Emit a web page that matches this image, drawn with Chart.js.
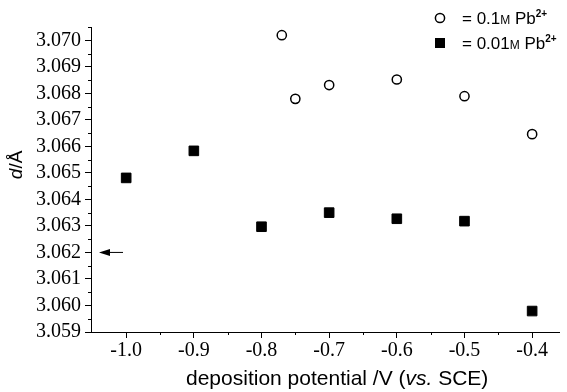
<!DOCTYPE html>
<html>
<head>
<meta charset="utf-8">
<script src="https://cdn.jsdelivr.net/npm/chart.js@4.4.0/dist/chart.umd.min.js"></script>
<style>
  html, body { margin: 0; padding: 0; background: #fff; }
</style>
</head>
<body>
<canvas id="dChart" width="567" height="392"></canvas>
<script>
// lattice spacing d (Å) vs deposition potential (V vs. SCE)
const potHigh = [-0.77, -0.75, -0.70, -0.60, -0.50, -0.40];        // 0.1 M Pb2+
const dHigh   = [3.07019, 3.06779, 3.06831, 3.06852, 3.06789, 3.06646];
const potLow  = [-1.0, -0.9, -0.8, -0.7, -0.6, -0.5, -0.4];         // 0.01 M Pb2+
const dLow    = [3.06481, 3.06583, 3.06297, 3.06350, 3.06327, 3.06318, 3.05979];
const concLabels = ['0.1', '0.01'];
const xTicks = [-1.0, -0.9, -0.8, -0.7, -0.6, -0.5, -0.4];
const yTicks = [3.059, 3.060, 3.061, 3.062, 3.063, 3.064, 3.065, 3.066, 3.067, 3.068, 3.069, 3.070];
const arrowAt = 3.062; // marked value on the y axis

const serif = "'Liberation Serif', 'Times New Roman', serif";
const sans = "'Liberation Sans', Arial, sans-serif";

// minor ticks, arrow, legend and axis titles
const extras = {
    id: 'extras',
    afterDraw(chart) {
        const ctx = chart.ctx;
        const xs = chart.scales.x, ys = chart.scales.y;
        const area = chart.chartArea;
        ctx.save();
        ctx.strokeStyle = '#000';
        ctx.fillStyle = '#000';
        ctx.lineWidth = 1;

        // minor ticks halfway between the major ones
        ctx.beginPath();
        for (let i = 0; i < xTicks.length - 1; i++) {
            const px = Math.round(xs.getPixelForValue((xTicks[i] + xTicks[i + 1]) / 2)) + 0.5;
            ctx.moveTo(px, area.bottom);
            ctx.lineTo(px, area.bottom + 3);
        }
        for (let i = 0; i < yTicks.length; i++) {
            const py = Math.round(ys.getPixelForValue(yTicks[i] + 0.0005)) + 0.5;
            if (py < area.top - 1) continue;
            ctx.moveTo(area.left, py);
            ctx.lineTo(area.left - 3, py);
        }
        ctx.stroke();

        // arrow pointing to the y axis
        const ay = ys.getPixelForValue(arrowAt);
        const ax = area.left + 8;
        ctx.beginPath();
        ctx.moveTo(ax + 9, ay);
        ctx.lineTo(ax + 24, ay);
        ctx.stroke();
        ctx.beginPath();
        ctx.moveTo(ax, ay);
        ctx.lineTo(ax + 11, ay - 3.5);
        ctx.lineTo(ax + 11, ay + 3.5);
        ctx.closePath();
        ctx.fill();

        // legend
        const rowsY = [18, 43];
        rowsY.forEach((ry, i) => {
            const mx = 440;
            if (i === 0) {
                ctx.beginPath();
                ctx.lineWidth = 1.5;
                ctx.arc(mx, ry, 4.6, 0, Math.PI * 2);
                ctx.fillStyle = '#fff';
                ctx.fill();
                ctx.stroke();
                ctx.fillStyle = '#000';
            } else {
                ctx.fillRect(mx - 5, ry - 5, 10, 10);
            }
            let tx = 462;
            ctx.textBaseline = 'alphabetic';
            ctx.textAlign = 'left';
            const base = ry + 6;
            const parts = [
                ['= ' + concLabels[i], '17px ' + sans, 0],
                ['M', '12px ' + sans, 0],
                [' Pb', '17px ' + sans, 0],
                ['2+', 'bold 10px ' + sans, -7.5]
            ];
            parts.forEach(p => {
                ctx.font = p[1];
                ctx.fillText(p[0], tx, base + p[2]);
                tx += ctx.measureText(p[0]).width;
            });
        });

        // x title
        const xParts = [
            ['deposition potential /V (', '21px ' + sans],
            ['vs.', 'italic 21px ' + sans],
            [' SCE)', '21px ' + sans]
        ];
        let x0 = 186;
        ctx.textBaseline = 'alphabetic';
        xParts.forEach(p => {
            ctx.font = p[1];
            ctx.fillText(p[0], x0, 385);
            x0 += ctx.measureText(p[0]).width;
        });

        // y title
        ctx.translate(17, ys.getPixelForValue(3.0653));
        ctx.rotate(-Math.PI / 2);
        ctx.textBaseline = 'middle';
        const yParts = [['d', 'italic 19px ' + sans], ['/Å', '19px ' + sans]];
        let w = 0;
        yParts.forEach(p => { ctx.font = p[1]; w += ctx.measureText(p[0]).width; });
        x0 = -w / 2;
        yParts.forEach(p => {
            ctx.font = p[1];
            ctx.fillText(p[0], x0, 0);
            x0 += ctx.measureText(p[0]).width;
        });
        ctx.restore();
    }
};

new Chart(document.getElementById('dChart'), {
    type: 'scatter',
    data: {
        datasets: [{
            label: concLabels[0],
            data: potHigh.map((v, i) => ({x: v, y: dHigh[i]})),
            pointStyle: 'circle',
            pointRadius: 4.6,
            borderWidth: 1.5,
            borderColor: '#000',
            backgroundColor: '#fff'
        }, {
            label: concLabels[1],
            data: potLow.map((v, i) => ({x: v, y: dLow[i]})),
            pointStyle: 'rect',
            pointRadius: 6.8,
            borderWidth: 1,
            borderColor: '#000',
            backgroundColor: '#000'
        }]
    },
    options: {
        responsive: false,
        animation: false,
        layout: { padding: { top: 27, right: 1, left: 0, bottom: 0 } },
        plugins: { legend: { display: false }, tooltip: { enabled: false } },
        scales: {
            x: {
                type: 'linear',
                min: -1.052,
                max: -0.36,
                afterBuildTicks: s => { s.ticks = xTicks.map(v => ({value: v})); },
                afterFit: s => { s.height = 60; },
                grid: { drawOnChartArea: false, tickLength: 6, tickColor: '#000' },
                border: { color: '#000', width: 1 },
                ticks: {
                    color: '#000',
                    padding: 1,
                    maxRotation: 0,
                    font: { family: serif, size: 20 },
                    callback: v => v.toFixed(1)
                }
            },
            y: {
                min: 3.059,
                max: 3.0705,
                afterBuildTicks: s => { s.ticks = yTicks.map(v => ({value: v})); },
                afterFit: s => { s.width = 91; },
                grid: { drawOnChartArea: false, tickLength: 6, tickColor: '#000' },
                border: { color: '#000', width: 1 },
                ticks: {
                    color: '#000',
                    padding: 4,
                    font: { family: serif, size: 20 },
                    callback: v => v.toFixed(3)
                }
            }
        }
    },
    plugins: [extras]
});
</script>
</body>
</html>
